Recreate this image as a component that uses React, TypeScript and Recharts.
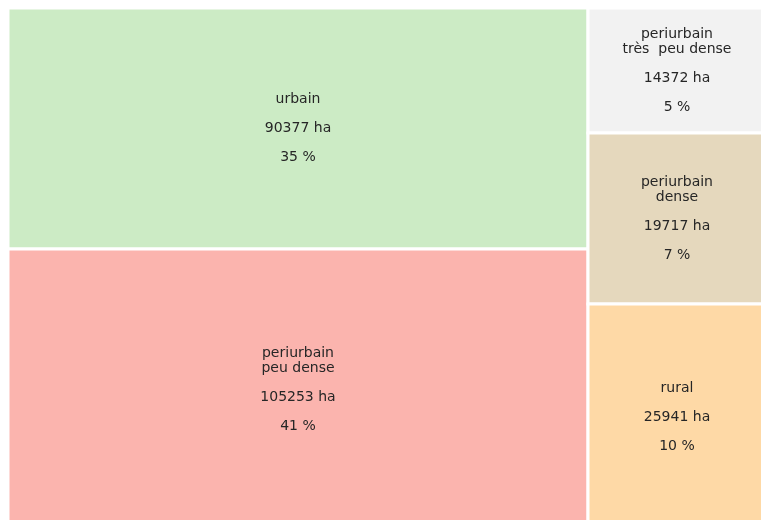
import React from 'react';
import { Treemap } from 'recharts';

// surfaces par type de tissu (ha), dans l'ordre du tracé
const zones = ['urbain', 'periurbain peu dense', 'periurbain très peu dense', 'periurbain dense', 'rural'];
const labels = [['urbain'], ['periurbain', 'peu dense'], ['periurbain', 'très  peu dense'], ['periurbain', 'dense'], ['rural']];
const hectares = [90377, 105253, 14372, 19717, 25941];
const percents = [35, 41, 5, 7, 10];
const colors = ['#ccebc5', '#fbb4ae', '#f2f2f2', '#e5d8bd', '#fed9a6'];

const data = zones.map((name, i) => ({ name, value: hectares[i] }));

const Cell = (props: any) => {
  const { x, y, width, height, depth, name } = props;
  if (depth !== 1) return null;
  const i = zones.indexOf(name);
  const cx = x + width / 2;
  const cy = y + height / 2 - 1.5;
  const names = labels[i];
  const extent = (names.length - 1) * 15 + 58;
  const top = cy - extent / 2;
  const haY = top + (names.length - 1) * 15 + 29;
  const txt = { fontFamily: 'DejaVu Sans, sans-serif', fontSize: 14, fill: '#262626', whiteSpace: 'pre' as const };
  return (
    <g>
      <rect x={x} y={y} width={width} height={height} fill={colors[i]} stroke="#fff" strokeWidth={3} />
      {names.map((l, k) => (
        <text key={k} x={cx} y={top + k * 15 + 5} textAnchor="middle" style={txt}>{l}</text>
      ))}
      <text x={cx} y={haY + 5} textAnchor="middle" style={txt}>{hectares[i]} ha</text>
      <text x={cx} y={haY + 29 + 5} textAnchor="middle" style={txt}>{percents[i]} %</text>
    </g>
  );
};

export default function App() {
  return (
    <div style={{ position: 'fixed', left: 8, top: 8, width: 753, height: 512, overflow: 'hidden' }}>
      <Treemap
        width={758}
        height={522}
        data={data}
        dataKey="value"
        nameKey="name"
        content={<Cell />}
        isAnimationActive={false}
      />
    </div>
  );
}
